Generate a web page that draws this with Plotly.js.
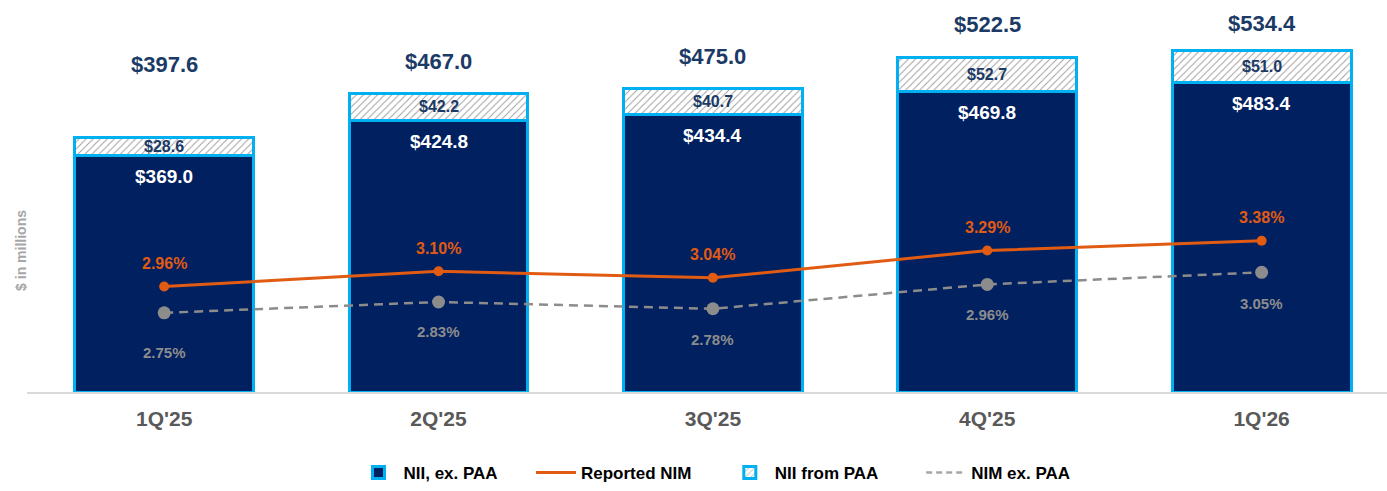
<!DOCTYPE html>
<html>
<head>
<meta charset="utf-8">
<script src="https://cdn.plot.ly/plotly-3.0.1.min.js"></script>
<style>
  html, body { margin: 0; padding: 0; background: #ffffff; }
  #chart { width: 1387px; height: 491px; }
</style>
</head>
<body>
<div id="chart"></div>
<script>
// ---- data ----
const quarters = ["1Q'25", "2Q'25", "3Q'25", "4Q'25", "1Q'26"];
const niiExPaa = [369.0, 424.8, 434.4, 469.8, 483.4];
const niiFromPaa = [28.6, 42.2, 40.7, 52.7, 51.0];
const totalNii = [397.6, 467.0, 475.0, 522.5, 534.4];
const reportedNim = [2.96, 3.10, 3.04, 3.29, 3.38];
const nimExPaa = [2.75, 2.83, 2.78, 2.96, 3.05];
const seriesNames = ['NII, ex. PAA', 'Reported NIM', 'NII from PAA', 'NIM ex. PAA'];

// ---- label offsets (px) ----
const totalLabelShift = [73, 32, 32, 33, 27];
const nimExLabelShift = [40, 29, 31, 30, 31];
const legendPad = [6, 6, 8, 0];

const NAVY = '#002060';
const CYAN = '#00b0f0';
const ORANGE = '#e15b12';
const GRAY = '#8c8c8c';
const FONT = 'Liberation Sans, Arial, sans-serif';

const money = v => '$' + v.toFixed(1);
const pct = v => v.toFixed(2) + '%';
const legendName = i => seriesNames[i] + '\u00a0'.repeat(legendPad[i]);

const traces = [
  {
    type: 'bar', name: legendName(0), x: quarters, y: niiExPaa,
    marker: { color: NAVY, line: { color: CYAN, width: 3 } },
    legendrank: 1, hoverinfo: 'skip'
  },
  {
    type: 'bar', name: legendName(2), x: quarters, y: niiFromPaa,
    marker: {
      color: '#ffffff',
      line: { color: CYAN, width: 3 },
      pattern: { shape: '/', fgcolor: '#9a9a9a', bgcolor: '#ffffff', size: 5, solidity: 0.18 }
    },
    legendrank: 3, hoverinfo: 'skip'
  },
  {
    type: 'scatter', mode: 'lines+markers', name: seriesNames[1], x: quarters, y: reportedNim,
    yaxis: 'y2', showlegend: false,
    line: { color: ORANGE, width: 3 },
    marker: { color: ORANGE, size: 10 },
    hoverinfo: 'skip'
  },
  {
    type: 'scatter', mode: 'lines+markers', name: seriesNames[3], x: quarters, y: nimExPaa,
    yaxis: 'y3', showlegend: false,
    line: { color: GRAY, width: 2.5, dash: '9px,6px' },
    marker: { color: GRAY, size: 13 },
    hoverinfo: 'skip'
  },
  // legend-only entries (lines without markers, as in the reference legend)
  {
    type: 'scatter', mode: 'lines', name: legendName(1), x: [null], y: [null],
    yaxis: 'y2', line: { color: ORANGE, width: 3 }, legendrank: 2, hoverinfo: 'skip'
  },
  {
    type: 'scatter', mode: 'lines', name: legendName(3), x: [null], y: [null],
    yaxis: 'y3', line: { color: '#a6a6a6', width: 2.5, dash: '6px,4px' }, legendrank: 4, hoverinfo: 'skip'
  }
];

const annotations = [];
quarters.forEach((q, i) => {
  annotations.push({
    x: q, y: totalNii[i], xref: 'x', yref: 'y', text: money(totalNii[i]),
    showarrow: false, yanchor: 'middle', yshift: totalLabelShift[i],
    font: { family: FONT, size: 22, color: '#1b3a66', weight: 'bold' }
  });
  annotations.push({
    x: q, y: niiExPaa[i], xref: 'x', yref: 'y', text: money(niiExPaa[i]),
    showarrow: false, yanchor: 'middle', yshift: -21,
    font: { family: FONT, size: 19, color: '#ffffff', weight: 'bold' }
  });
  annotations.push({
    x: q, y: niiExPaa[i] + niiFromPaa[i] / 2, xref: 'x', yref: 'y', text: money(niiFromPaa[i]),
    showarrow: false, yanchor: 'middle', yshift: 0,
    font: { family: FONT, size: 16, color: '#1b3a66', weight: 'bold' }
  });
  annotations.push({
    x: q, y: reportedNim[i], xref: 'x', yref: 'y2', text: pct(reportedNim[i]),
    showarrow: false, yanchor: 'middle', yshift: 23,
    font: { family: FONT, size: 16, color: ORANGE, weight: 'bold' }
  });
  annotations.push({
    x: q, y: nimExPaa[i], xref: 'x', yref: 'y3', text: pct(nimExPaa[i]),
    showarrow: false, yanchor: 'middle', yshift: -nimExLabelShift[i],
    font: { family: FONT, size: 15, color: '#8c8c8c', weight: 'bold' }
  });
});
annotations.push({
  xref: 'paper', yref: 'paper', x: -0.0044, y: 0.36, text: '$ in millions',
  textangle: -90, showarrow: false, xanchor: 'center', yanchor: 'middle',
  font: { family: FONT, size: 14, color: '#a6a6a6', weight: 'bold' }
});

const layout = {
  width: 1387, height: 491,
  margin: { l: 27, r: 0, t: 0, b: 97 },
  paper_bgcolor: '#ffffff', plot_bgcolor: '#ffffff',
  barmode: 'stack', bargap: 0.348,
  showlegend: true,
  legend: {
    orientation: 'h', x: 0.5055, xanchor: 'center', y: -0.208, yanchor: 'middle',
    font: { family: FONT, size: 17, color: '#000000', weight: 'bold' },
    traceorder: 'normal', itemwidth: 40
  },
  xaxis: {
    range: [-0.5, 4.457], showgrid: false, zeroline: false,
    showline: true, linecolor: '#d9d9d9', linewidth: 2,
    ticks: '', ticklabelstandoff: 7,
    tickfont: { family: FONT, size: 21, color: '#595959', weight: 'bold' },
    fixedrange: true
  },
  yaxis: {
    range: [0, 612.8], visible: false, showgrid: false, zeroline: false, fixedrange: true
  },
  yaxis2: {
    range: [1.992, 5.590], overlaying: 'y', visible: false, showgrid: false, zeroline: false, fixedrange: true
  },
  yaxis3: {
    range: [2.164, 5.065], overlaying: 'y', visible: false, showgrid: false, zeroline: false, fixedrange: true
  },
  annotations: annotations,
  font: { family: FONT }
};

Plotly.newPlot('chart', traces, layout, { staticPlot: true, displayModeBar: false });
</script>
</body>
</html>
